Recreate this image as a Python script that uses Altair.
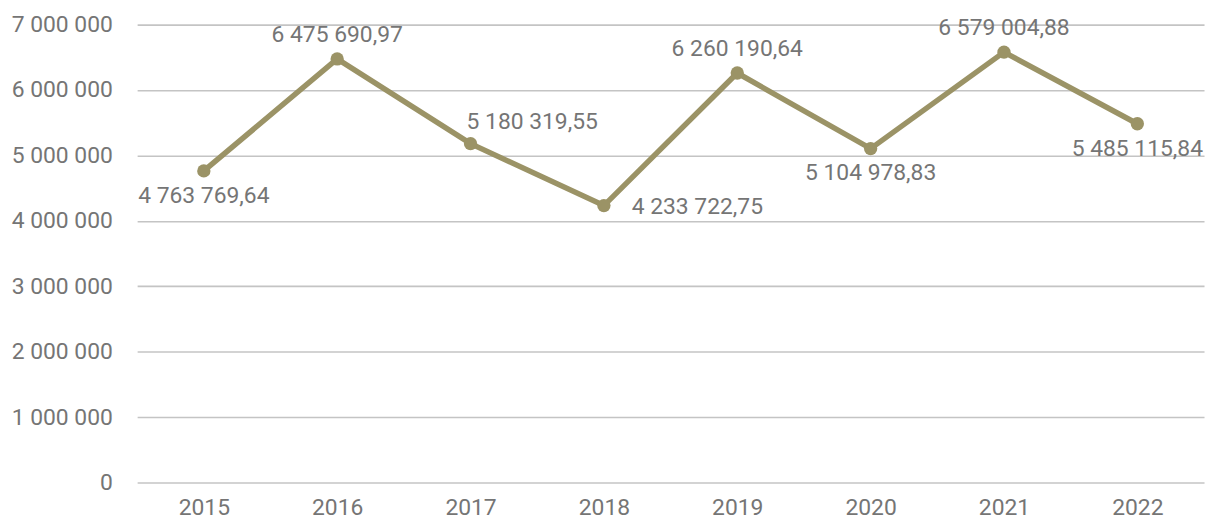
import altair as alt
import pandas as pd

years = ["2015", "2016", "2017", "2018", "2019", "2020", "2021", "2022"]
values = [4763769.64, 6475690.97, 5180319.55, 4233722.75, 6260190.64, 5104978.83, 6579004.88, 5485115.84]


def fmt(v):
    s = f"{v:,.2f}"
    return s.replace(",", " ").replace(".", ",")


df = pd.DataFrame({"year": years, "value": values})
df["label"] = [fmt(v) for v in values]

LINE = "#9B9366"
TEXT = "#757575"
FONT = "Roboto"
FS = 23

x = alt.X("year:O", title=None,
          scale=alt.Scale(type="point", padding=0.5),
          axis=alt.Axis(labelAngle=0, domain=False, ticks=False, grid=False, labelPadding=14,
                        labelFontSize=FS, labelColor=TEXT, labelFont=FONT))
y = alt.Y("value:Q", title=None,
          scale=alt.Scale(domain=[0, 7000000]),
          axis=alt.Axis(values=[0, 1000000, 2000000, 3000000, 4000000, 5000000, 6000000, 7000000],
                        labelExpr="replace(format(datum.value, ','), /,/g, ' ')",
                        domain=False, ticks=False, labelPadding=25,
                        labelFontSize=FS, labelColor=TEXT, labelFont=FONT,
                        gridColor="#C4C4C4", gridWidth=1.6))

base = alt.Chart(df).encode(x=x, y=y)

line = base.mark_line(color=LINE, strokeWidth=5.5)
pts = base.mark_circle(color=LINE, size=180, opacity=1)


def lbl(sel, **kw):
    return base.transform_filter(
        alt.FieldOneOfPredicate(field="year", oneOf=sel)
    ).mark_text(font=FONT, fontSize=FS, color=TEXT, **kw).encode(text="label:N")


above = lbl(["2016", "2019", "2021"], dy=-24)
aboveright = lbl(["2017"], align="left", dx=-4, dy=-22)
below = lbl(["2015", "2020", "2022"], dy=25)
right = lbl(["2018"], align="left", dx=28, dy=1)

chart = alt.layer(line, pts, above, aboveright, below, right).properties(
    width=1074, height=461,
    autosize=alt.AutoSizeParams(type="none"),
    padding={"left": 130, "top": 15, "right": 4, "bottom": 42},
    background="white",
).configure_view(stroke=None)

chart.save("out.html", embed_options={"renderer": "svg", "actions": False})
